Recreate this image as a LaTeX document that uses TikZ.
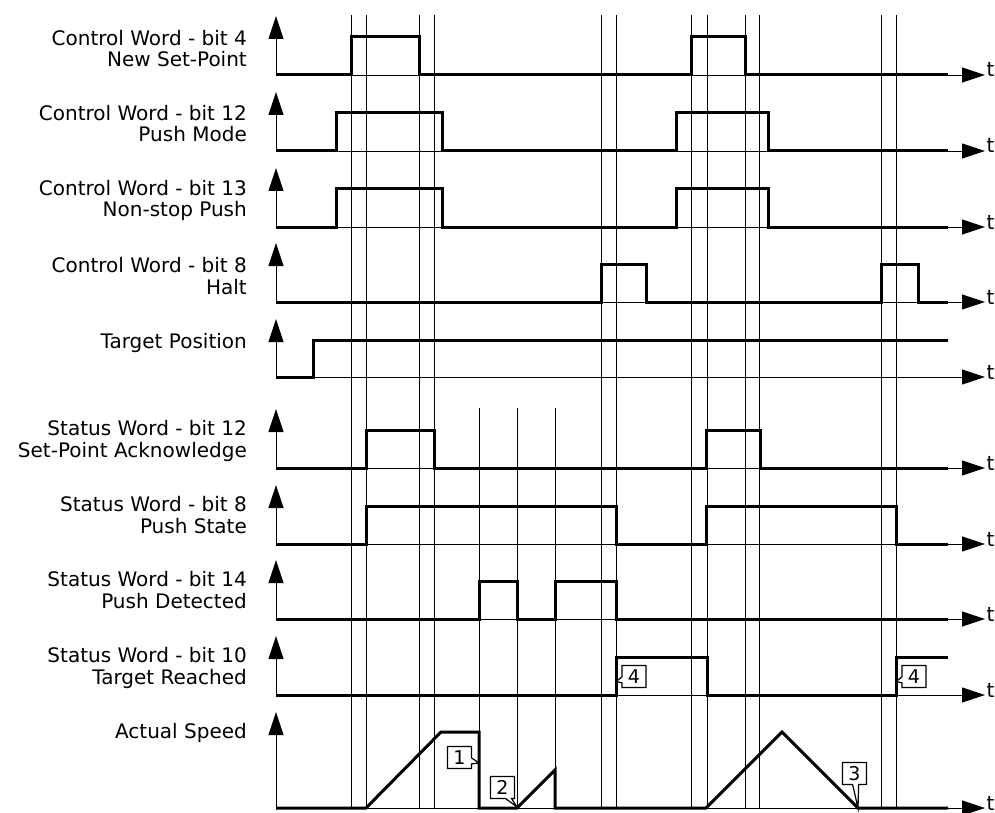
\documentclass[tikz,border=0pt]{standalone}
\usepackage{fontspec}
\setmainfont{DejaVu Sans}
\usetikzlibrary{arrows.meta,shapes.callouts}
\begin{document}
\begin{tikzpicture}[x=1pt,y=-1pt,
  lbl/.style={align=right,anchor=base east,inner sep=0pt,font=\fontsize{20}{21.5}\selectfont},
  tlbl/.style={anchor=base west,inner sep=0pt,font=\fontsize{20}{21.5}\selectfont},
  axisline/.style={line width=0.9pt,-{Triangle[length=23pt,width=15pt]}},
  gridline/.style={line width=0.9pt},
  sig/.style={line width=3pt,line join=miter},
  callbox/.style={rectangle callout,draw,fill=white,line width=1.2pt,inner sep=0pt,
    minimum width=24pt,minimum height=22pt,callout pointer width=6pt,
    font=\fontsize{19}{19}\selectfont}]
\useasboundingbox (0,0) rectangle (995,813);
% grid lines
\foreach \gx in {351,366,419,434,601,616,691,707,745,759,881,896}
  \draw[gridline] (\gx,15) -- (\gx,808);
\foreach \gx in {479,517,555}
  \draw[gridline] (\gx,408) -- (\gx,808);
% axes
\foreach \i/\b/\tp in {1/75/16,2/151/92,3/227/168,4/302/243,5/377/319,6/468/409,7/544/485,8/619/560,9/695/636,10/808/712}{
  \coordinate (o\i) at (276,\b);
  \coordinate (e\i) at (985,\b);
  \coordinate (u\i) at (276,\tp);
  \draw[axisline] (o\i) -- (e\i);
  \draw[axisline] (o\i) -- (u\i);
  \node[tlbl] (t\i) at (986.5,\b+2) {t};
}
% labels (anchored at the baseline of the last line)
\node[lbl] (l1) at (247,66.7) {Control Word - bit 4\\New Set-Point};
\node[lbl] (l2) at (247,141.7) {Control Word - bit 12\\Push Mode};
\node[lbl] (l3) at (247,216.7) {Control Word - bit 13\\Non-stop Push};
\node[lbl] (l4) at (247,294) {Control Word - bit 8\\Halt};
\node[lbl] (l5) at (247,348) {Target Position};
\node[lbl] (l6) at (247,457) {Status Word - bit 12\\Set-Point Acknowledge};
\node[lbl] (l7) at (247,533) {Status Word - bit 8\\Push State};
\node[lbl] (l8) at (247,608.3) {Status Word - bit 14\\Push Detected};
\node[lbl] (l9) at (247,684.3) {Status Word - bit 10\\Target Reached};
\node[lbl] (l10) at (247,738) {Actual Speed};
% signals
\draw[sig] (276,75) -- (351,75) -- (351,37) -- (419,37) -- (419,75) -- (691,75) -- (691,37) -- (745,37) -- (745,75) -- (948,75);
\draw[sig] (276,151) -- (336,151) -- (336,113) -- (442,113) -- (442,151) -- (676,151) -- (676,113) -- (768,113) -- (768,151) -- (948,151);
\draw[sig] (276,227) -- (336,227) -- (336,189) -- (442,189) -- (442,227) -- (676,227) -- (676,189) -- (768,189) -- (768,227) -- (948,227);
\draw[sig] (276,302) -- (601,302) -- (601,264) -- (646,264) -- (646,302) -- (881,302) -- (881,264) -- (918,264) -- (918,302) -- (948,302);
\draw[sig] (276,377) -- (313,377) -- (313,340) -- (948,340);
\draw[sig] (276,468) -- (366,468) -- (366,430) -- (434,430) -- (434,468) -- (706,468) -- (706,430) -- (760,430) -- (760,468) -- (948,468);
\draw[sig] (276,544) -- (366,544) -- (366,506) -- (616,506) -- (616,544) -- (706,544) -- (706,506) -- (896,506) -- (896,544) -- (948,544);
\draw[sig] (276,619) -- (479,619) -- (479,581) -- (517,581) -- (517,619) -- (555,619) -- (555,581) -- (616,581) -- (616,619) -- (948,619);
\draw[sig] (276,695) -- (616,695) -- (616,657) -- (707,657) -- (707,695) -- (896,695) -- (896,657) -- (948,657);
\draw[sig] (276,808) -- (366,808) -- (441,732) -- (479,732) -- (479,808) -- (517,808) -- (555,770) -- (555,808) -- (706,808) -- (782,732) -- (858,808) -- (948,808);
% callouts
\node[callbox,callout absolute pointer={(479,763)}] (c1) at (459.5,757.5) {1};
\node[callbox,callout absolute pointer={(517,807)}] (c2) at (502.5,787.5) {2};
\node[callbox,callout absolute pointer={(858,808)}] (c3) at (854.5,773.5) {3};
\node[callbox,callout absolute pointer={(616,681.5)}] (c4a) at (634,676.5) {4};
\node[callbox,callout absolute pointer={(896,681.5)}] (c4b) at (914,676.5) {4};
\end{tikzpicture}
\end{document}
